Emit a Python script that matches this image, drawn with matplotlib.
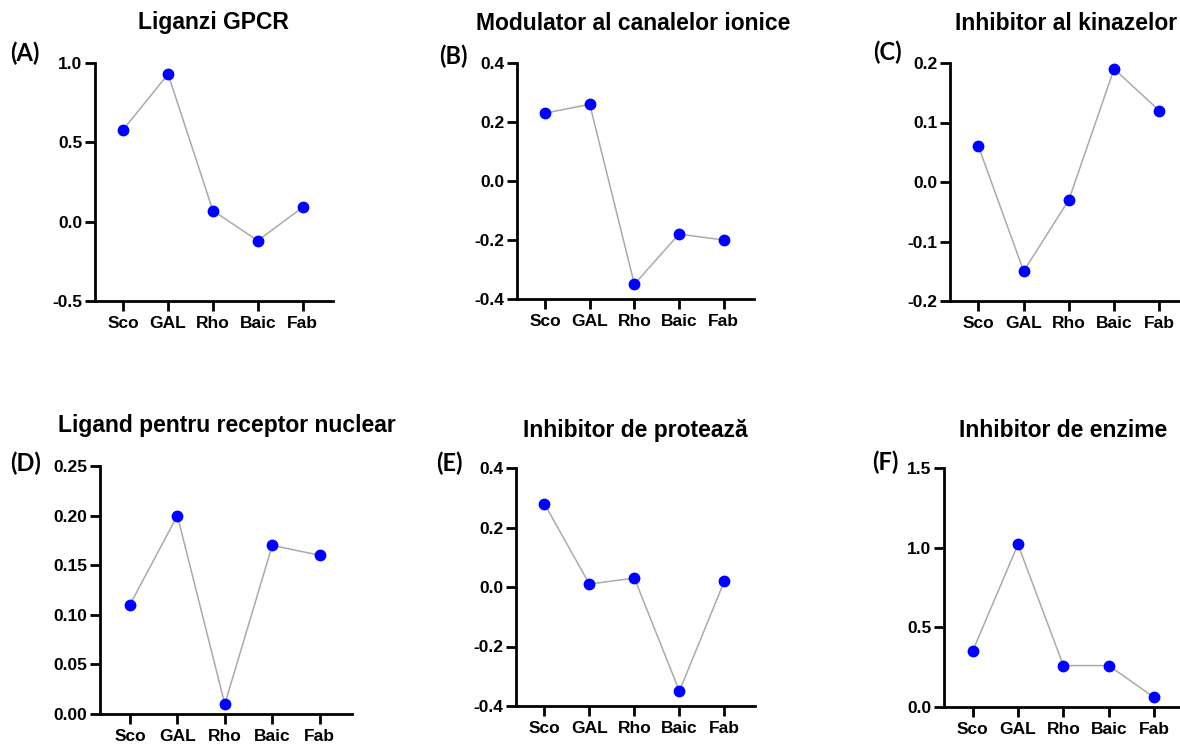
import numpy as np
import matplotlib.pyplot as plt

plt.rcParams['font.family'] = ['Liberation Sans', 'DejaVu Sans']
plt.rcParams['font.weight'] = 'bold'

compounds = ['Sco', 'GAL', 'Rho', 'Baic', 'Fab']

gpcr     = [0.58, 0.93, 0.07, -0.12, 0.09]
ion_ch   = [0.23, 0.26, -0.35, -0.18, -0.20]
kinase   = [0.06, -0.15, -0.03, 0.19, 0.12]
nuclear  = [0.11, 0.20, 0.01, 0.17, 0.16]
protease = [0.28, 0.01, 0.03, -0.35, 0.02]
enzyme   = [0.35, 1.02, 0.26, 0.26, 0.06]

titles = ['Liganzi GPCR', 'Modulator al canalelor ionice', 'Inhibitor al kinazelor',
          'Ligand pentru receptor nuclear', 'Inhibitor de protează', 'Inhibitor de enzime']
letters = ['(A)', '(B)', '(C)', '(D)', '(E)', '(F)']
series = [gpcr, ion_ch, kinase, nuclear, protease, enzyme]
yticks = [[-0.5, 0.0, 0.5, 1.0],
          [-0.4, -0.2, 0.0, 0.2, 0.4],
          [-0.2, -0.1, 0.0, 0.1, 0.2],
          [0.0, 0.05, 0.10, 0.15, 0.20, 0.25],
          [-0.4, -0.2, 0.0, 0.2, 0.4],
          [0.0, 0.5, 1.0, 1.5]]
fmts = ['%.1f', '%.1f', '%.1f', '%.2f', '%.1f', '%.1f']

W, H = 1180, 746
# axes boxes in pixels: left, top, right, bottom
boxes = [(95, 63, 333, 301), (517, 63, 754, 299), (950, 63, 1190, 301),
         (100, 466, 352, 714), (516, 468, 755, 706), (944, 468, 1185, 707)]
# title anchor (x, y, ha)
title_pos = [(213, 23, 'center'), (633, 23, 'center'), (1177, 23, 'right'),
             (227, 425, 'center'), (635, 430, 'center'), (1063, 430, 'center')]
letter_pos = [(10, 53), (439, 56), (873, 52), (10, 463), (436, 463), (872, 462)]

fig = plt.figure(figsize=(W / 100, H / 100), dpi=100)
x = np.arange(1, len(compounds) + 1)

for i in range(6):
    l, t, r, b = boxes[i]
    ax = fig.add_axes([l / W, 1 - b / H, (r - l) / W, (b - t) / H])
    ax.plot(x, series[i], color='#aaaaaa', lw=1.1, zorder=1)
    ax.plot(x, series[i], 'o', color='#0000ff', ms=7.5, zorder=2)
    ax.set_xlim(0.37, 5.68)
    ax.set_ylim(yticks[i][0], yticks[i][-1])
    ax.set_yticks(yticks[i])
    ax.set_yticklabels([fmts[i] % v for v in yticks[i]])
    ax.set_xticks(x)
    ax.set_xticklabels(compounds)
    for s in ['top', 'right']:
        ax.spines[s].set_visible(False)
    for s in ['left', 'bottom']:
        ax.spines[s].set_linewidth(2)
    ax.tick_params(width=2, length=7, labelsize=12.5)
    ax.tick_params(axis='x', pad=4)
    ax.tick_params(axis='y', pad=2)
    for lab in ax.get_xticklabels() + ax.get_yticklabels():
        lab.set_fontweight('bold')
    ax.patch.set_alpha(0)

    tx, ty, ha = title_pos[i]
    fig.text(tx / W, 1 - ty / H, titles[i], ha=ha, va='center',
             fontsize=16.5, fontweight='bold')
    lx, ly = letter_pos[i]
    fig.text(lx / W, 1 - ly / H, letters[i], ha='left', va='center',
             fontsize=17, fontweight='bold', family=['Lato', 'DejaVu Sans'])

plt.savefig('out.png', dpi=100)
